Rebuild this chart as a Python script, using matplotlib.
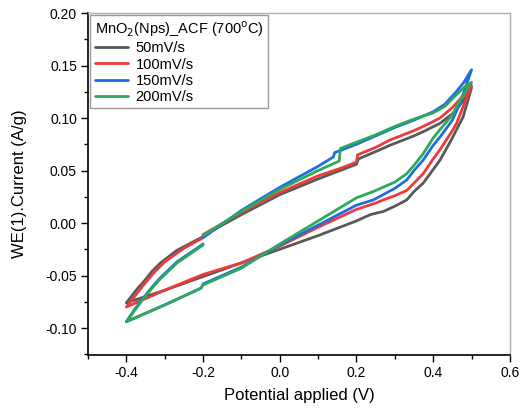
import matplotlib
matplotlib.use("Agg")
import matplotlib.pyplot as plt
from matplotlib.ticker import MultipleLocator, FormatStrFormatter

plt.rcParams['font.family'] = ['Liberation Sans', 'DejaVu Sans']

labels = ["50mV/s", "100mV/s", "150mV/s", "200mV/s"]
colors = ["#595959", "#ec3b3b", "#1f6ee0", "#2ea85a"]
legend_title = "MnO$_2$(Nps)_ACF (700$^{\\mathrm{o}}$C)"

# Each loop: upper branch from -0.2 to 0.5, lower branch back to -0.4, upper branch to -0.2
x_50 = [-0.2, -0.1, 0.0, 0.1, 0.2, 0.205, 0.25, 0.287, 0.35, 0.374, 0.418, 0.45, 0.478, 0.5,
        0.478, 0.461, 0.45, 0.418, 0.4, 0.374, 0.35, 0.331, 0.3, 0.27, 0.236, 0.2, 0.1, 0.0, -0.1, -0.2,
        -0.3, -0.35, -0.4,
        -0.385, -0.37, -0.355, -0.333, -0.311, -0.268, -0.2]
y_50 = [-0.012, 0.008, 0.027, 0.042, 0.056, 0.061, 0.068, 0.074, 0.083, 0.087, 0.095, 0.104, 0.116, 0.129,
        0.101, 0.089, 0.081, 0.060, 0.051, 0.038, 0.030, 0.022, 0.016, 0.011, 0.008, 0.002, -0.012, -0.025, -0.038, -0.051,
        -0.064, -0.070, -0.076,
        -0.069, -0.062, -0.056, -0.046, -0.038, -0.026, -0.013]

x_100 = [-0.2, -0.1, 0.0, 0.1, 0.158, 0.2, 0.203, 0.25, 0.287, 0.35, 0.374, 0.418, 0.45, 0.475, 0.5,
         0.475, 0.461, 0.45, 0.418, 0.4, 0.374, 0.35, 0.331, 0.3, 0.27, 0.25, 0.2, 0.1, 0.0, -0.1, -0.2,
         -0.3, -0.35, -0.4,
         -0.385, -0.37, -0.355, -0.33, -0.3, -0.25, -0.2]
y_100 = [-0.011, 0.010, 0.029, 0.045, 0.052, 0.058, 0.065, 0.072, 0.079, 0.088, 0.092, 0.100, 0.110, 0.120, 0.131,
         0.108, 0.095, 0.088, 0.070, 0.061, 0.047, 0.038, 0.031, 0.026, 0.022, 0.019, 0.013, -0.004, -0.022, -0.038, -0.049,
         -0.064, -0.072, -0.080,
         -0.073, -0.066, -0.059, -0.048, -0.037, -0.024, -0.014]

x_150 = [-0.2, -0.1, 0.0, 0.1, 0.14, 0.143, 0.2, 0.25, 0.3, 0.35, 0.4, 0.43, 0.46, 0.48, 0.5,
         0.47, 0.45, 0.418, 0.4, 0.374, 0.35, 0.331, 0.3, 0.244, 0.2, 0.1, 0.0, -0.1, -0.2, -0.205,
         -0.3, -0.4,
         -0.378, -0.355, -0.333, -0.311, -0.268, -0.2]
y_150 = [-0.014, 0.012, 0.034, 0.054, 0.063, 0.067, 0.075, 0.083, 0.091, 0.098, 0.106, 0.113, 0.125, 0.134, 0.146,
         0.114, 0.098, 0.082, 0.074, 0.060, 0.050, 0.041, 0.033, 0.022, 0.017, -0.002, -0.021, -0.042, -0.058, -0.062,
         -0.078, -0.094,
         -0.082, -0.071, -0.061, -0.052, -0.037, -0.020]

x_200 = [-0.2, -0.1, 0.0, 0.1, 0.155, 0.158, 0.2, 0.25, 0.3, 0.35, 0.4, 0.43, 0.46, 0.48, 0.5,
         0.47, 0.45, 0.418, 0.4, 0.374, 0.35, 0.331, 0.3, 0.244, 0.2, 0.1, 0.0, -0.1, -0.2, -0.205,
         -0.3, -0.4,
         -0.378, -0.355, -0.333, -0.311, -0.268, -0.2]
y_200 = [-0.012, 0.011, 0.032, 0.050, 0.059, 0.071, 0.077, 0.084, 0.092, 0.099, 0.105, 0.111, 0.122, 0.129, 0.134,
         0.117, 0.103, 0.089, 0.081, 0.066, 0.055, 0.047, 0.039, 0.030, 0.024, 0.002, -0.020, -0.043, -0.059, -0.062,
         -0.078, -0.094,
         -0.083, -0.072, -0.062, -0.053, -0.038, -0.021]

xs = [x_50, x_100, x_150, x_200]
ys = [y_50, y_100, y_150, y_200]

fig = plt.figure(figsize=(5.28, 4.15), dpi=100)
ax = fig.add_axes([0.1667, 0.1446, 0.799, 0.824])

for x, y, c, lab in zip(xs, ys, colors, labels):
    ax.plot(x, y, color=c, lw=2.0, label=lab, solid_joinstyle='round', solid_capstyle='round')

ax.set_xlim(-0.5, 0.6)
ax.set_ylim(-0.1257, 0.20)
ax.xaxis.set_major_locator(MultipleLocator(0.2))
ax.xaxis.set_minor_locator(MultipleLocator(0.1))
ax.yaxis.set_major_locator(MultipleLocator(0.05))
ax.yaxis.set_minor_locator(MultipleLocator(0.025))
ax.xaxis.set_major_formatter(FormatStrFormatter('%.1f'))
ax.yaxis.set_major_formatter(FormatStrFormatter('%.2f'))

for s in ['left', 'bottom']:
    ax.spines[s].set_color('black')
    ax.spines[s].set_linewidth(1.2)
for s in ['top', 'right']:
    ax.spines[s].set_color('#b0b0b0')
    ax.spines[s].set_linewidth(1.0)

ax.tick_params(which='major', direction='out', length=5, width=1.0, labelsize=10, colors='black', pad=3)
ax.tick_params(which='minor', direction='out', length=3, width=1.0)
ax.tick_params(top=False, right=False, which='both')

ax.set_xlabel("Potential applied (V)", fontsize=12, labelpad=6)
ax.set_ylabel("WE(1).Current (A/g)", fontsize=12, labelpad=13)

leg = ax.legend(title=legend_title, loc='upper left', fontsize=10.5, title_fontsize=10.5,
                frameon=True, fancybox=False, edgecolor='#808080', borderaxespad=0.15,
                handlelength=2.3, handletextpad=0.5, labelspacing=0.15, borderpad=0.3)
leg.get_frame().set_linewidth(1.0)
leg._legend_box.align = "left"

fig.savefig("out.png", dpi=100)
